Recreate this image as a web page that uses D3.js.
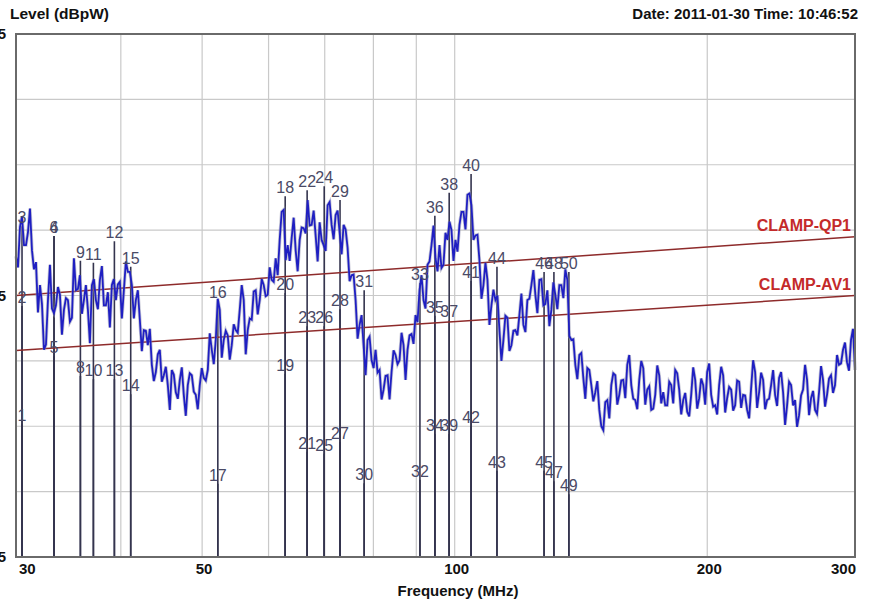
<!DOCTYPE html>
<html>
<head>
<meta charset="utf-8">
<script src="https://cdn.jsdelivr.net/npm/d3@7"></script>
<style>
  html, body { margin: 0; padding: 0; background: #ffffff; }
  svg { display: block; }
  .hdr { font-family: "Liberation Sans", Arial, sans-serif; font-weight: bold; font-size: 15px; fill: #111; }
  .mk { font-family: "Liberation Sans", Arial, sans-serif; font-size: 16px; fill: #4a4a66; }
  .lim { font-family: "Liberation Sans", Arial, sans-serif; font-weight: bold; font-size: 16px; fill: #c42a2a; }
</style>
</head>
<body>
<svg id="chart" width="870" height="607"></svg>
<script>
// Sweep range (MHz); the receiver steps logarithmically between these
const sweepStart = 30;
const sweepStop = 300;
// Level (dBpW) on the even sweep steps
const levelsEven = [
  51.0,55.5,52.7,54.7,51.9,50.1,46.6,36.7,44.3,43.0,
  43.5,45.1,42.8,44.3,41.6,45.8,48.1,44.3,42.8,46.6,
  44.3,47.4,43.5,45.5,46.6,44.3,47.1,45.8,48.6,46.6,
  44.3,41.3,39.7,37.4,34.4,33.3,36.7,32.8,31.3,33.6,
  30.2,32.1,29.8,31.3,32.8,29.8,31.3,32.4,33.6,36.7,
  38.2,42.8,38.2,38.9,37.4,39.7,42.8,44.3,39.7,41.3,
  45.8,44.3,46.6,45.1,47.4,50.7,53.5,58.1,52.7,53.8,
  51.9,53.5,55.3,59.6,55.8,54.2,56.2,52.7,58.8,55.8,
  57.3,54.7,55.8,52.3,48.1,44.3,40.5,37.4,38.2,35.1,
  36.7,33.6,30.6,32.8,33.3,35.9,35.1,37.4,36.7,39.1,
  42.0,45.8,44.3,49.7,52.7,50.7,52.7,49.7,53.5,55.0,
  53.5,55.8,57.8,60.4,58.8,54.2,50.4,46.6,47.4,43.5,
  44.3,39.7,38.2,41.6,37.4,39.7,42.0,40.5,44.3,46.6,
  45.1,47.4,43.5,45.8,42.8,45.1,46.6,44.6,47.4,38.2,
  34.4,35.9,32.4,33.9,31.3,30.2,27.5,24.4,29.0,31.3,
  32.8,29.8,32.1,34.4,31.3,29.0,32.1,33.9,30.6,27.5,
  29.8,32.8,30.2,28.2,31.3,33.6,30.6,29.0,27.2,29.8,
  32.1,29.3,31.3,33.3,29.8,28.2,31.3,32.8,29.3,30.6,
  28.2,31.8,29.8,27.5,30.8,33.3,30.2,32.1,29.0,31.3,
  29.8,32.4,30.2,28.2,31.3,29.0,26.7,30.6,32.1,29.3,
  27.5,30.2,32.1,29.8,32.8,31.3,34.4,36.7,34.8,38.2,
  33.6
];
// Level (dBpW) on the odd sweep steps
const levelsOdd = [
  49.3,57.1,52.7,58.3,49.0,42.4,43.7,37.5,49.7,42.3,
  46.3,39.0,44.6,41.0,50.7,46.0,42.2,46.6,37.7,47.5,
  42.9,49.5,43.5,40.1,47.5,46.7,41.5,50.2,48.6,41.5,
  45.8,36.5,39.6,39.9,31.9,36.0,31.8,34.1,27.5,32.9,
  29.2,34.0,26.6,33.1,30.3,27.6,33.9,32.0,39.2,34.5,
  44.5,35.5,39.6,35.2,40.6,39.3,46.6,36.0,41.5,45.6,
  42.1,47.5,44.9,49.3,47.1,48.1,57.8,50.4,50.3,56.9,
  48.7,55.4,54.5,55.7,58.0,50.2,53.5,51.8,59.3,53.6,
  58.0,51.3,55.1,47.2,48.2,38.4,42.0,32.8,38.7,33.9,
  33.2,29.1,32.7,29.1,36.6,34.5,39.3,32.1,38.9,37.6,
  40.9,48.1,43.0,50.2,55.7,48.7,49.2,54.6,56.3,50.3,
  51.7,57.8,55.1,60.6,53.5,54.3,44.5,50.0,40.5,45.9,
  45.0,35.0,41.9,36.5,39.6,38.9,45.3,39.4,44.5,48.9,
  42.3,47.5,43.7,40.3,47.0,42.9,46.6,49.0,38.8,38.3,
  32.2,36.2,29.2,33.6,28.8,31.9,25.0,28.7,26.2,33.1,
  28.3,32.0,29.3,35.9,29.2,27.6,35.0,28.3,31.1,27.7,
  34.3,28.5,28.2,31.8,28.5,33.1,26.8,30.1,26.5,34.0,
  27.7,32.3,28.3,34.6,28.0,26.8,34.1,27.1,31.0,27.4,
  32.0,27.8,29.7,26.2,35.1,27.8,33.2,27.6,29.2,33.6,
  28.1,33.3,25.2,31.8,28.2,24.9,29.7,34.4,26.7,30.4,
  26.9,34.2,28.0,32.3,30.1,35.9,34.6,37.8,33.5,39.9
];

// Marker numbers, frequencies (MHz) and reading levels (dBpW)
const markerIds    = [1, 2, 3, 4, 5, 6, 8, 9, 10, 11, 12, 13, 14, 15, 16, 17, 18, 19, 20, 21, 22, 23, 24, 25, 26, 27, 28, 29, 30, 31, 32, 33, 34, 35, 36, 37, 38, 39, 40, 41, 42, 43, 44, 45, 46, 47, 48, 49, 50];
const markerFreqs  = [30.5, 30.5, 30.5, 33.3, 33.3, 33.3, 35.8, 35.8, 37.1, 37.1, 39.3, 39.3, 41.1, 41.1, 52.2, 52.2, 62.8, 62.8, 62.8, 66.7, 66.7, 66.7, 69.9, 69.9, 69.9, 73.0, 73.0, 73.0, 78.0, 78.0, 90.9, 90.9, 94.7, 94.7, 94.7, 98.5, 98.5, 98.5, 104.6, 104.6, 104.6, 112.3, 112.3, 127.8, 127.8, 131.3, 131.3, 136.8, 136.8];
const markerLevels = [25.3, 43.4, 55.6, 54.1, 35.7, 54.1, 32.7, 50.3, 32.2, 50.0, 53.3, 32.2, 29.9, 49.4, 44.2, 16.2, 60.2, 33.0, 45.4, 21.1, 61.1, 40.3, 61.7, 20.8, 40.3, 22.6, 42.9, 59.6, 16.3, 45.8, 16.8, 46.9, 23.8, 41.9, 57.2, 41.2, 60.7, 23.8, 63.6, 47.2, 25.0, 18.2, 49.4, 18.2, 48.6, 16.6, 48.6, 14.6, 48.6];

// Limit lines (MHz, dBpW)
const limitNames = ["CLAMP-QP1", "CLAMP-AV1"];
const limitQP = [[30, 45.0], [300, 54.0]];
const limitAV = [[30, 36.6], [300, 45.0]];

// Axis ticks
const freqGrid = [40, 50, 60, 70, 80, 90, 100, 200];
const freqTickLabels = [30, 50, 100, 200, 300];
const levelGrid = [15, 25, 35, 45, 55, 65, 75];
const levelTickLabels = [85, 45, 5];
const levelDomain = [5, 85];

const svg = d3.select("#chart");
const plot = { left: 16, right: 855, top: 34, bottom: 557 };

const x = d3.scaleLog().domain([sweepStart, sweepStop]).range([plot.left, plot.right]);
const y = d3.scaleLinear().domain(levelDomain).range([plot.bottom, plot.top]);

// Header texts
svg.append("text").attr("class", "hdr").attr("x", 10).attr("y", 19)
  .style("font-size", "15.5px").text("Level (dBpW)");
svg.append("text").attr("class", "hdr").attr("x", 858).attr("y", 19)
  .attr("text-anchor", "end").text("Date: 2011-01-30  Time: 10:46:52");

// Grid
const grid = svg.append("g");
grid.selectAll("line.v").data(freqGrid).join("line")
  .attr("x1", d => x(d)).attr("x2", d => x(d))
  .attr("y1", plot.top).attr("y2", plot.bottom)
  .attr("stroke", "#c9c9c9").attr("stroke-width", 1.2);
grid.selectAll("line.h").data(levelGrid).join("line")
  .attr("x1", plot.left).attr("x2", plot.right)
  .attr("y1", d => y(d)).attr("y2", d => y(d))
  .attr("stroke", "#c9c9c9").attr("stroke-width", 1.2);

// Level tick labels sitting in the narrow left margin
svg.selectAll("text.yl").data(levelTickLabels).join("text")
  .attr("class", "hdr").attr("x", 6).attr("y", d => y(d) + 5)
  .attr("text-anchor", "end").text(d => d);

// Marker lines
const markers = markerIds.map((id, i) => ({ id, f: markerFreqs[i], v: markerLevels[i] }));
svg.append("g").selectAll("line").data(markers).join("line")
  .attr("x1", d => x(d.f)).attr("x2", d => x(d.f))
  .attr("y1", d => y(d.v)).attr("y2", plot.bottom)
  .attr("stroke", "#34344e").attr("stroke-width", 1.6);

// Limit lines
const limLine = d3.line().x(d => x(d[0])).y(d => y(d[1]));
[limitQP, limitAV].forEach((lim, i) => {
  svg.append("path").attr("d", limLine(lim))
    .attr("fill", "none").attr("stroke", "#8e2b2b").attr("stroke-width", 1.5);
  svg.append("text").attr("class", "lim")
    .attr("x", plot.right - 4).attr("y", y(lim[1][1]) - 6)
    .attr("text-anchor", "end").text(limitNames[i]);
});

// Measured trace: even and odd steps interleaved along the sweep
const steps = [];
levelsEven.forEach((v, i) => {
  steps.push(v);
  if (i < levelsOdd.length) steps.push(levelsOdd[i]);
});
const n = steps.length;
const trace = steps.map((v, k) => [sweepStart * Math.pow(sweepStop / sweepStart, k / (n - 1)), v]);
const traceLine = d3.line().x(d => x(d[0])).y(d => y(d[1]));
svg.append("path").attr("d", traceLine(trace))
  .attr("fill", "none").attr("stroke", "#8d90ae").attr("stroke-width", 3.4).attr("opacity", 0.5);
svg.append("path").attr("d", traceLine(trace))
  .attr("fill", "none").attr("stroke", "#1f1fc2").attr("stroke-width", 1.8);

// Marker labels
svg.append("g").selectAll("text").data(markers).join("text")
  .attr("class", "mk").attr("x", d => x(d.f)).attr("y", d => y(d.v) - 3)
  .attr("text-anchor", "middle").text(d => d.id);

// Frame
svg.append("rect").attr("x", plot.left).attr("y", plot.top)
  .attr("width", plot.right - plot.left).attr("height", plot.bottom - plot.top)
  .attr("fill", "none").attr("stroke", "#6a6a6a").attr("stroke-width", 2);

// Frequency axis labels
svg.selectAll("text.xl").data(freqTickLabels).join("text")
  .attr("class", "hdr")
  .attr("x", (d, i) => i === 0 ? x(d) + 3 : (i === freqTickLabels.length - 1 ? x(d) + 1 : x(d) + 2))
  .attr("y", 574)
  .attr("text-anchor", (d, i) => i === 0 ? "start" : (i === freqTickLabels.length - 1 ? "end" : "middle"))
  .text(d => d);
svg.append("text").attr("class", "hdr").attr("x", 458).attr("y", 596)
  .attr("text-anchor", "middle").text("Frequency (MHz)");
</script>
</body>
</html>
